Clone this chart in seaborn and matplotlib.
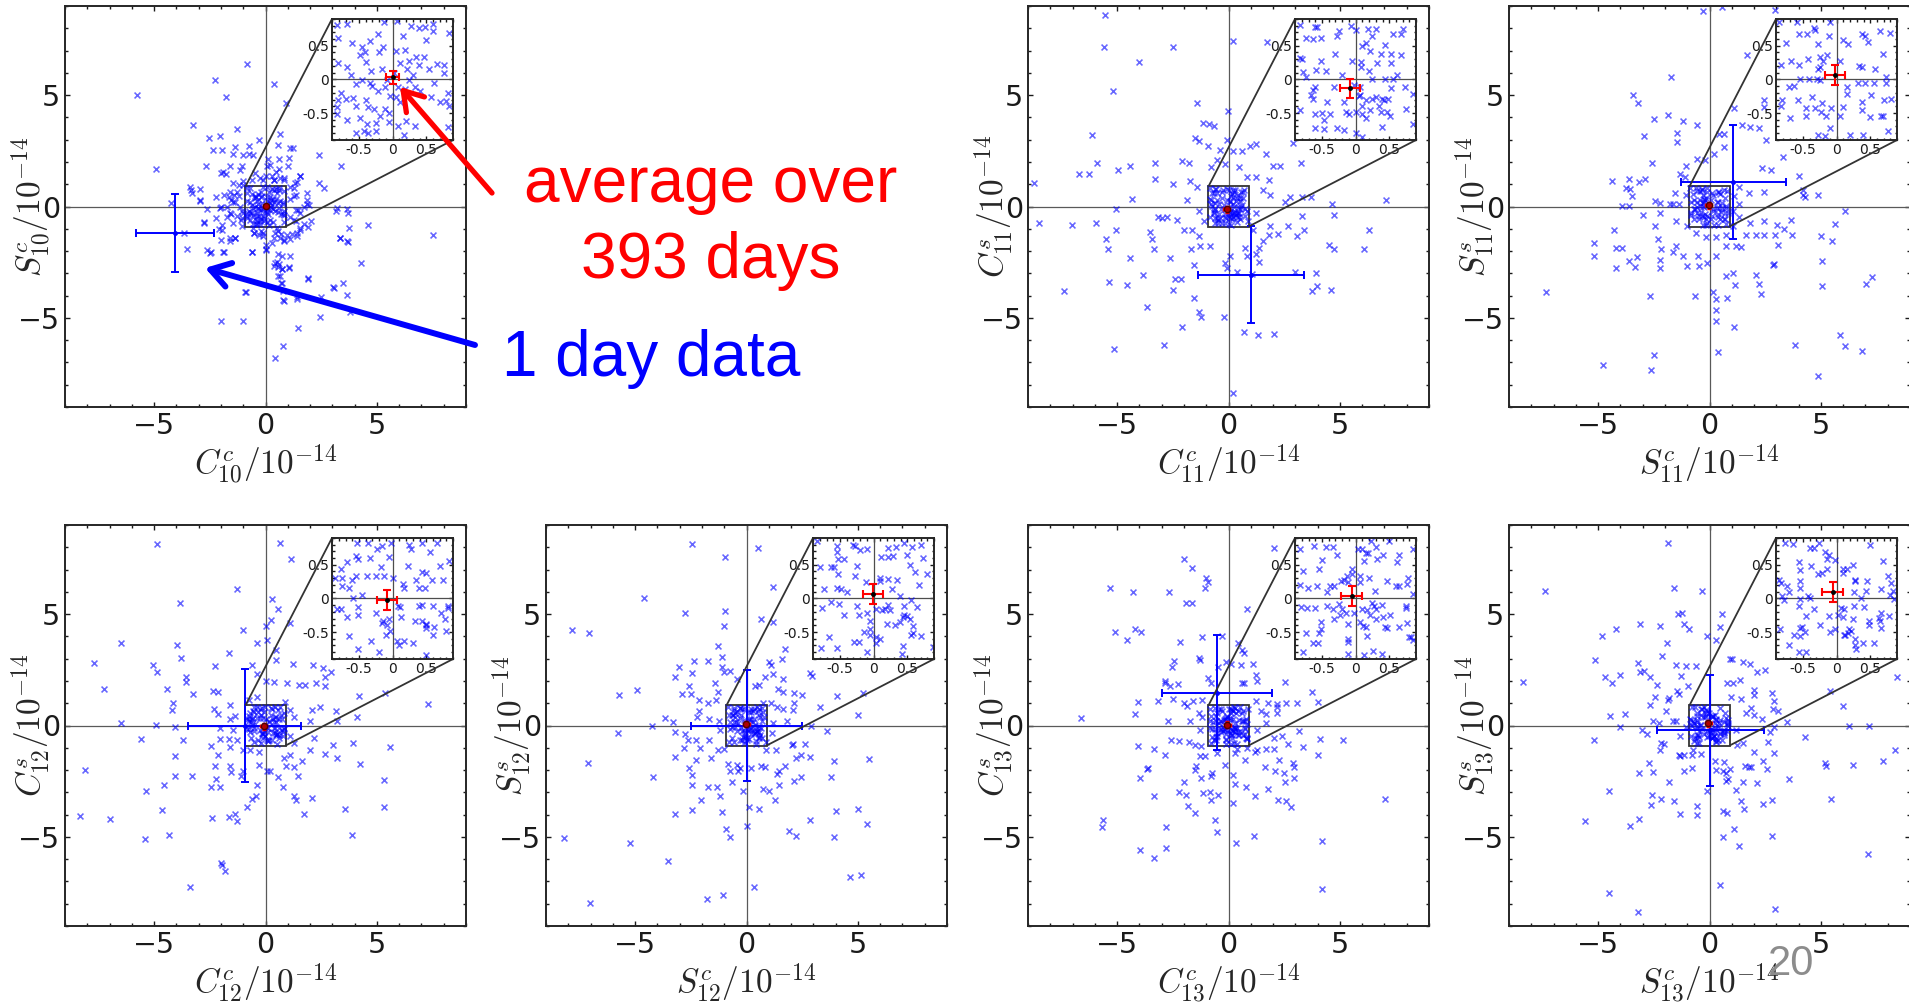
import numpy as np
import pandas as pd
import matplotlib
matplotlib.use("Agg")
import matplotlib.pyplot as plt
from matplotlib.patches import FancyArrowPatch
from matplotlib.ticker import MultipleLocator, FixedLocator, FixedFormatter
from mpl_toolkits.axes_grid1.inset_locator import mark_inset
import seaborn as sns

# ---------------------------------------------------------------------------
# daily coefficient estimates (units of 1e-14), one list of (x, y) per panel
# ---------------------------------------------------------------------------
c10c_s10c = [
    (-5.75, 5.0), (-0.81, 6.41), (-2.28, 5.67), (-1.78, 4.9), (0.40, 5.52), (0.93, 4.63), (-3.26, 3.66),
    (-1.26, 3.49), (-2.53, 3.07), (-2.04, 3.15), (-2.34, 2.55), (-1.96, 2.55), (-1.36, 2.67), (-0.72, 2.70),
    (-0.31, 2.97), (0.63, 3.26), (0.55, 2.74), (1.11, 2.63), (1.23, 2.63), (-1.02, 2.30), (-0.76, 2.34),
    (0.13, 2.11), (0.60, 2.11), (2.38, 2.33), (3.38, 1.82), (-4.91, 1.68), (-2.66, 1.82), (-1.99, 1.51),
    (-1.77, 1.45), (-1.59, 1.81), (-1.14, 1.63), (0.06, 1.81), (0.99, 1.81), (1.56, 1.36), (1.33, 1.07),
    (2.38, 1.07), (2.63, 0.85), (-3.41, 0.89), (-3.31, 0.59), (-2.96, 0.77), (-2.96, 0.25), (-4.25, 0.15),
    (-2.63, -0.12), (-2.04, -0.07), (-2.22, -0.52), (-2.78, -0.71), (-1.96, -1.04), (-1.59, -1.41),
    (-1.36, -1.41), (-1.99, -1.51), (-2.63, -1.97), (-2.46, -2.05), (-3.53, -1.93), (-3.68, -1.19),
    (-1.92, -2.05), (-0.61, -2.03), (0.03, -1.93), (0.43, -2.52), (0.58, -2.72), (0.75, -2.82), (1.05, -2.72),
    (0.55, -3.12), (0.75, -3.44), (0.78, -4.18), (-0.88, -3.83), (1.41, -4.08), (1.90, -3.23), (2.49, -4.04),
    (3.01, -3.61), (4.30, -2.55), (3.35, -1.41), (3.70, -1.60), (3.73, -0.96), (4.58, -0.83), (7.54, -1.28),
    (3.65, -0.12), (3.17, -0.18), (3.71, -0.30), (1.86, 0.30), (1.48, -0.15), (2.04, -0.67), (1.56, -0.96),
    (1.41, -1.19), (1.11, -1.45), (0.81, -1.51), (0.43, -1.19), (-0.31, -1.26), (-0.51, -1.19), (-0.09, -1.34),
    (-1.02, -0.30), (-1.59, -0.30), (-1.44, 0.22), (-1.21, 0.45), (-1.59, 0.67), (-0.99, 0.96), (-0.61, 1.19),
    (-0.24, 1.26), (0.36, 1.19), (0.81, 1.26), (1.11, 0.89), (1.26, 0.45), (1.86, 0.59), (1.26, -0.59),
    (-0.54, -0.96), (0.51, -0.95), (-1.06, -0.89), (-1.99, -5.12), (-0.99, -5.16), (1.48, -5.46), (2.43, -4.97),
    (0.78, -6.26), (0.43, -6.78), (3.80, -4.72),
    (-1.45, 2.36), (-0.55, 2.32), (1.05, 2.17), (-1.05, 1.82), (0.22, 1.87), (0.60, 1.67), (0.49, 1.57),
    (-1.91, 1.57), (-0.48, 1.49), (-0.10, 1.20), (0.00, 1.35), (0.30, 1.35), (0.40, 1.20), (0.67, 1.27),
    (0.82, 1.20), (1.57, 1.38), (1.42, 1.12), (-1.00, 1.15), (-1.45, 1.05), (-1.20, 0.97), (1.27, 0.82),
    (1.39, 0.52), (1.12, 0.33), (-3.36, 0.75), (-2.94, 0.30), (-2.24, 0.42), (-1.99, 0.00), (-1.75, 0.00),
    (-1.57, 0.30), (-1.42, 0.52), (-1.27, 0.63), (-1.87, 0.52), (-1.64, 0.42), (-1.35, 0.22), (-1.15, 0.00),
    (-1.05, -0.18), (-1.27, -0.42), (-1.05, -0.52), (-1.54, -0.33), (-1.75, -0.45), (-1.94, -0.82),
    (-2.09, -1.02), (-2.77, -0.75), (-1.45, -0.75), (-1.12, -0.60), (1.35, -0.15), (1.72, -0.03), (1.87, 0.12),
    (1.94, 0.07), (1.57, -0.30), (1.12, -0.45), (1.35, -0.67), (1.72, -0.78), (1.90, -0.90), (1.57, -1.05),
    (1.42, -1.32), (1.20, -1.23), (0.97, -1.27), (0.70, -1.23), (0.55, -1.12), (0.67, -1.42), (0.85, -1.57),
    (0.37, -1.42), (0.30, -1.64), (0.00, -1.72), (-0.22, -1.12), (-0.52, -1.17), (-0.10, -1.17), (-1.60, -1.57),
    (-1.35, -1.42), (-1.87, -2.02), (-2.47, -2.09), (-0.60, -2.06), (0.04, -1.97), (0.55, -2.12), (0.75, -2.21),
    (1.12, -2.21), (0.52, -2.47), (0.60, -2.57), (0.37, -2.69), (0.75, -2.81), (1.05, -2.77), (0.64, -3.14),
    (0.70, -3.44), (1.90, -3.26), (0.79, -3.81), (1.42, -4.15), (0.82, -4.26), (-0.90, -3.86), (3.06, -3.66),
    (3.66, -3.96), (3.48, -3.44), (3.36, -1.42), (3.66, -1.57), (3.21, -0.07),
    (-0.83, 0.81), (-0.68, 0.82), (-0.13, 0.86), (0.06, 0.87), (0.28, 0.80), (0.39, 0.76), (0.48, 0.78),
    (0.60, 0.82), (0.60, 0.72), (0.84, 0.69), (-0.81, 0.62), (-0.60, 0.54), (-0.34, 0.57), (-0.21, 0.67),
    (-0.46, 0.48), (-0.41, 0.41), (-0.15, 0.48), (-0.20, 0.41), (0.05, 0.42), (0.16, 0.64), (0.18, 0.43),
    (0.50, 0.59), (0.35, 0.33), (0.46, 0.34), (0.66, 0.23), (0.77, 0.22), (0.77, 0.09), (0.54, 0.16),
    (0.39, 0.21), (0.22, 0.16), (0.11, 0.25), (0.25, 0.28), (-0.81, 0.24), (-0.68, 0.19), (-0.48, 0.36),
    (-0.39, 0.26), (-0.32, 0.13), (-0.16, 0.16), (-0.46, -0.01), (-0.33, -0.06), (-0.31, -0.10), (-0.54, -0.07),
    (-0.21, -0.17), (-0.11, -0.12), (-0.09, -0.01), (0.25, -0.01), (0.34, -0.11), (0.08, -0.12), (0.18, -0.15),
    (0.41, -0.18), (0.82, -0.20), (-0.76, -0.20), (-0.81, -0.30), (-0.70, -0.29), (-0.59, -0.28), (-0.39, -0.30),
    (-0.04, -0.25), (0.05, -0.26), (0.11, -0.33), (0.57, -0.26), (0.71, -0.33), (0.79, -0.32), (0.84, -0.40),
    (-0.83, -0.41), (-0.54, -0.40), (-0.37, -0.41), (-0.27, -0.44), (-0.11, -0.44), (-0.06, -0.50),
    (-0.19, -0.54), (-0.68, -0.60), (-0.48, -0.57), (-0.38, -0.67), (-0.24, -0.65), (-0.06, -0.64), (0.20, -0.62),
    (0.34, -0.70), (-0.82, -0.52), (-0.54, -0.79), (-0.43, -0.77), (-0.36, -0.79), (-0.25, -0.77), (0.17, -0.83),
    (0.82, -0.71), (0.08, -0.70), (0.62, -0.05), (-0.62, 0.06), (0.02, 0.09), (0.30, 0.06),
]

c11c_c11s = [
    (-5.55, 8.58), (-5.58, 7.15), (-2.51, 7.15), (-4.03, 6.50), (0.22, 7.42), (1.75, 7.37), (-5.18, 5.18),
    (-1.42, 4.64), (-0.04, 4.30), (-1.15, 3.75), (-0.88, 3.71), (-0.67, 3.63), (-6.12, 3.22), (-1.49, 3.09),
    (-1.31, 2.94), (-0.07, 2.97), (-0.90, 2.70), (-0.37, 2.55), (0.19, 2.48), (0.60, 2.49), (0.97, 2.70),
    (1.24, 2.82), (1.69, 2.37), (2.88, 2.86), (3.25, 1.97), (-5.90, 1.97), (-6.69, 1.44), (-6.24, 1.45),
    (-8.73, 1.07), (-4.96, 1.63), (-4.40, 1.82), (-3.28, 1.97), (-3.28, 1.23), (-2.51, 1.02), (-2.09, 2.03),
    (-1.79, 1.97), (-1.72, 1.14), (-0.79, 1.78), (-0.52, 2.08), (-0.15, 1.93), (0.45, 1.78), (0.82, 1.34),
    (1.24, 1.34), (1.84, 1.19), (1.99, 1.82), (2.31, 1.82), (1.54, 0.74), (1.87, 0.52), (2.54, 0.18),
    (2.76, 0.42), (3.28, 0.42), (3.70, 0.42), (4.63, 0.10), (7.09, 0.27), (4.75, -0.37), (3.28, -0.42),
    (2.69, -0.89), (2.24, -1.23), (3.06, -1.31), (3.39, -1.07), (6.31, -1.04), (6.07, -1.90), (4.49, -1.71),
    (4.73, -1.93), (3.93, -2.97), (3.96, -3.59), (3.73, -3.80), (4.58, -3.74), (1.87, -0.89), (1.84, -1.26),
    (1.57, -1.56), (1.39, -1.85), (1.24, -2.15), (1.39, -2.48), (0.75, -1.85), (0.82, -2.23), (0.07, -2.23),
    (-0.15, -2.52), (-0.07, -2.74), (0.37, -2.94), (1.04, -3.04), (2.99, -2.94), (-0.82, -1.78), (-1.27, -1.78),
    (-1.57, -2.63), (-1.34, -1.34), (-1.69, -1.90), (-1.64, -1.04), (-1.99, -1.07), (-2.31, -0.62),
    (-2.76, -0.45), (-2.99, -0.52), (-3.18, -0.47), (-3.51, -1.16), (-3.43, -1.45), (-3.36, -1.93),
    (-2.61, -2.30), (-2.42, -3.26), (-2.12, -3.26), (-2.49, -3.75), (-1.57, -4.12), (-1.34, -4.75),
    (-1.22, -4.97), (-0.22, -4.97), (-2.07, -5.42), (-2.91, -6.23), (-5.15, -6.38), (-3.66, -4.50),
    (-3.85, -3.09), (-4.55, -3.53), (-4.43, -2.33), (-5.37, -3.41), (-5.40, -1.93), (-5.49, -1.45),
    (-5.04, -1.04), (-5.04, -0.12), (-4.33, 0.33), (-5.97, -0.74), (-7.04, -0.83), (-8.51, -0.74),
    (-7.39, -3.80), (0.70, -5.64), (1.34, -5.79), (2.04, -5.74), (0.22, -8.35), (-1.87, 0.30),
    (-1.42, 0.89), (-1.34, -0.22), (-1.12, -0.67), (1.24, -0.30), (1.12, -1.04),
    (-0.82, 0.81), (-0.60, 0.78), (-0.57, 0.78), (-0.74, 0.62), (-0.63, 0.60), (-0.51, 0.62), (-0.25, 0.72),
    (-0.27, 0.64), (-0.07, 0.80), (0.01, 0.73), (0.18, 0.75), (0.31, 0.75), (0.25, 0.65), (0.55, 0.67),
    (0.67, 0.67), (0.71, 0.75), (0.10, 0.49), (0.16, 0.54), (0.43, 0.51), (0.22, 0.42), (0.37, 0.37),
    (0.52, 0.37), (0.67, 0.36), (-0.82, 0.32), (-0.51, 0.27), (-0.30, 0.37), (-0.05, 0.28), (0.08, 0.26),
    (0.08, 0.19), (0.20, 0.13), (0.32, 0.25), (0.52, 0.24), (0.61, 0.06), (-0.59, 0.14), (-0.44, 0.12),
    (-0.78, 0.11), (-0.74, 0.03), (-0.20, 0.06), (-0.02, -0.08), (-0.32, -0.12), (-0.60, -0.12), (-0.64, -0.16),
    (0.07, -0.12), (0.25, 0.0), (0.44, 0.0), (0.56, 0.0), (0.52, -0.13), (0.74, -0.12), (0.85, -0.22),
    (-0.66, -0.23), (-0.63, -0.29), (-0.42, -0.33), (-0.17, -0.33), (0.05, -0.25), (0.07, -0.23), (0.15, -0.31),
    (0.25, -0.29), (0.31, -0.26), (0.39, -0.29), (0.48, -0.29), (0.42, -0.31), (0.35, -0.40), (0.22, -0.46),
    (0.10, -0.39), (0.0, -0.48), (-0.14, -0.48), (-0.10, -0.52), (-0.38, -0.52), (-0.50, -0.50), (-0.61, -0.51),
    (-0.82, -0.45), (-0.47, -0.61), (0.10, -0.52), (0.15, -0.58), (0.38, -0.48), (0.46, -0.48), (0.51, -0.55),
    (0.75, -0.44), (-0.61, -0.72), (-0.47, -0.74), (-0.27, -0.72), (-0.17, -0.75), (0.01, -0.79), (0.10, -0.85),
    (0.39, -0.71), (0.86, -0.67), (-0.79, 0.30),
]

s11c_s11s = [
    (-0.30, 8.78), (2.96, 8.83), (0.57, 8.95), (-1.75, 5.82), (1.67, 6.82), (-3.43, 5.00), (-3.19, 4.64),
    (-2.48, 3.93), (-1.87, 4.11), (-1.19, 3.86), (-0.55, 3.66), (-2.93, 3.17), (-1.46, 3.31), (-1.46, 2.91),
    (-2.57, 1.96), (1.10, 4.42), (0.42, 3.26), (0.67, 3.26), (1.46, 3.66), (1.82, 3.59), (2.21, 3.53),
    (2.54, 3.00), (2.46, 4.78), (2.46, 4.45), (3.31, 2.23), (2.76, 1.63), (4.00, 1.36), (4.18, 0.74),
    (4.30, 0.42), (4.88, 0.52), (4.18, 0.52), (2.36, 1.75), (2.46, 0.67), (1.79, 0.62), (1.34, 0.89),
    (1.12, 0.47), (0.67, 2.67), (0.18, 2.34), (-0.22, 2.08), (-0.57, 2.15), (-1.04, 1.81), (-1.34, 1.45),
    (-1.12, 1.34), (-1.57, 0.62), (-1.79, 0.12), (-1.64, 0.12), (-2.24, 0.15), (-2.24, -0.30), (-2.46, 0.25),
    (-3.61, 0.03), (-3.91, 0.03), (-3.76, 0.82), (-3.58, 0.79), (-3.46, 0.45), (-3.16, 1.11), (-2.88, 1.23),
    (-4.36, 1.14), (-3.61, 1.23), (-2.99, -0.37), (-2.43, -0.89), (-2.31, -1.45), (-2.19, -1.93),
    (-2.24, -2.40), (-2.21, -2.74), (-1.64, -2.05), (-1.49, -1.78), (-1.19, -2.20), (-1.01, -2.67),
    (-1.49, -0.64), (-1.01, -0.86), (-0.52, -2.23), (-0.45, -2.67), (-0.10, -2.52), (0.30, -2.23),
    (0.72, -1.78), (1.19, -1.78), (1.42, -1.82), (1.64, -1.26), (2.09, -1.26), (2.46, -1.26), (2.96, -1.26),
    (3.06, -1.71), (3.36, -1.01), (3.70, -1.26), (3.66, -0.62), (3.01, -0.82), (2.46, -0.67), (1.82, -0.74),
    (5.00, -1.34), (5.52, -1.56), (5.64, -0.77), (6.09, -0.22), (5.04, -2.45), (5.07, -3.56), (2.91, -2.57),
    (2.87, -2.63), (2.07, -3.09), (2.22, -3.46), (2.31, -3.93), (0.75, -3.12), (1.04, -3.00), (1.15, -3.53),
    (0.78, -4.11), (0.15, -3.83), (0.27, -4.15), (0.27, -4.64), (0.27, -5.12), (1.12, -5.42), (-0.67, -4.01),
    (-2.67, -4.01), (0.37, -6.53), (-2.49, -6.65), (-2.61, -7.34), (-4.78, -7.12), (-7.34, -3.86),
    (-5.19, -1.66), (-5.19, -2.23), (-4.18, -1.88), (-3.91, -1.88), (-4.18, -2.77), (-3.61, -2.45),
    (-3.36, -2.72), (-3.25, -2.27), (-4.28, -1.07), (3.85, -6.20), (4.88, -7.61), (5.85, -5.79), (6.09, -6.26),
    (6.84, -6.50), (7.04, -3.49), (7.31, -3.16), (-1.37, 0.12), (-1.04, 0.52), (1.04, -0.18), (1.04, -0.89),
    (0.75, -1.26), (0.30, -1.37), (-0.15, -1.37), (-0.60, -1.19), (1.34, 0.12), (1.34, -0.45),
    (-0.86, 0.85), (-0.59, 0.85), (-0.34, 0.77), (-0.32, 0.74), (-0.44, 0.68), (-0.56, 0.68), (-0.10, 0.85),
    (-0.11, 0.65), (-0.28, 0.53), (-0.75, 0.54), (0.10, 0.59), (0.17, 0.52), (0.37, 0.67), (0.42, 0.65),
    (0.46, 0.55), (0.64, 0.72), (0.79, 0.69), (0.69, 0.37), (-0.42, 0.31), (-0.68, 0.27), (-0.56, 0.21),
    (-0.82, 0.21), (-0.25, 0.34), (-0.15, 0.36), (-0.20, 0.27), (-0.25, 0.19), (-0.28, 0.16), (0.05, 0.27),
    (0.33, 0.20), (0.38, 0.19), (0.57, 0.16), (0.74, 0.03), (-0.54, 0.0), (-0.41, 0.01), (-0.29, 0.01),
    (-0.25, -0.01), (-0.71, -0.12), (-0.64, -0.10), (0.16, -0.12), (0.32, -0.06), (0.42, -0.06), (0.56, -0.06),
    (0.74, -0.06), (0.16, -0.21), (0.51, -0.23), (-0.81, -0.30), (-0.58, -0.31), (-0.36, -0.26), (-0.21, -0.35),
    (-0.32, -0.43), (-0.45, -0.43), (-0.45, -0.54), (-0.23, -0.48), (-0.16, -0.54), (-0.09, -0.43),
    (0.10, -0.41), (0.37, -0.46), (0.38, -0.33), (0.71, -0.30), (0.81, -0.29), (0.49, -0.56), (0.66, -0.54),
    (0.69, -0.55), (-0.69, -0.57), (-0.10, -0.72), (-0.28, -0.82), (-0.17, -0.84), (0.20, -0.82), (0.39, -0.82),
    (0.76, -0.77), (-0.83, -0.40), (0.05, -0.55),
]

c12c_c12s = [
    (-4.85, 8.13), (0.66, 8.19), (1.15, 7.46), (-1.26, 6.13), (-3.83, 5.51), (0.28, 5.66), (0.58, 5.22),
    (-1.02, 4.28), (0.0, 4.46), (0.25, 4.73), (1.08, 4.58), (-0.39, 3.69), (0.06, 3.84), (-6.50, 3.69),
    (-3.98, 3.61), (-3.79, 3.04), (-1.65, 3.24), (0.48, 3.39), (0.48, 2.94), (-7.72, 2.79), (-5.03, 2.72),
    (-4.85, 2.39), (-2.26, 2.67), (-0.61, 2.72), (-0.39, 2.30), (0.03, 2.00), (0.36, 1.97), (1.23, 2.76),
    (2.11, 2.72), (2.56, 2.57), (2.95, 2.39), (2.68, 2.19), (2.68, 1.79), (2.28, 1.90), (1.78, 1.82),
    (1.51, 1.82), (0.96, 1.90), (-3.56, 2.16), (-3.56, 1.94), (-3.26, 1.42), (-4.40, 1.63), (-7.23, 1.64),
    (-4.13, 1.03), (-4.18, 0.70), (-3.71, -0.67), (-6.50, 0.10), (-4.91, 0.03), (-4.06, -0.07), (-2.29, 0.73),
    (-2.11, 0.52), (-2.34, 1.57), (-2.14, 1.52), (-1.59, 0.93), (-1.59, 0.28), (-1.36, 0.43), (-2.04, -0.12),
    (-2.04, -0.61), (-2.46, -0.94), (-2.11, -1.31), (-1.62, -0.61), (-1.59, -0.97), (-1.29, -0.64),
    (-1.59, -1.81), (-1.54, -2.10), (-2.26, -1.84), (-2.22, -2.40), (-2.46, -2.78), (-2.04, -2.78),
    (-1.11, -2.28), (-1.02, -2.03), (-0.31, -1.76), (-0.69, -1.09), (-0.31, -1.21), (0.06, -2.06),
    (0.18, -2.06), (0.58, -2.31), (0.78, -2.76), (0.93, -1.81), (0.81, -1.46), (1.08, -1.31), (1.29, -1.87),
    (1.44, -2.28), (1.30, -3.15), (1.38, -3.33), (1.75, -3.96), (2.08, -3.25), (1.66, -1.61), (2.01, -1.09),
    (2.16, -0.54), (2.01, 0.22), (2.08, 0.70), (2.46, 0.85), (3.17, 0.63), (3.20, 0.18), (3.05, -0.87),
    (2.68, -1.27), (3.23, -1.46), (3.91, -0.79), (5.57, -0.97), (4.25, -1.72), (4.10, 0.37), (4.18, 1.33),
    (5.37, 1.48), (7.28, 0.96), (5.30, -2.43), (5.30, -3.66), (3.58, -3.75), (3.88, -4.93), (-0.39, -2.66),
    (-0.42, -3.15), (-0.61, -3.30), (-0.81, -3.67), (-1.36, -3.96), (-1.26, -4.30), (-1.63, -4.10),
    (-2.38, -4.15), (-3.31, -2.28), (-4.06, -2.28), (-4.06, -1.39), (-5.58, -0.61), (-5.36, -2.93),
    (-4.55, -2.66), (-4.66, -3.81), (-4.33, -4.93), (-5.43, -5.09), (-6.98, -4.19), (-8.32, -4.07),
    (-8.10, -1.99), (-2.01, -6.19), (-1.96, -6.28), (-1.81, -6.51), (-3.38, -7.24), (-0.99, -1.09),
    (-1.44, -0.19), (1.26, -0.79), (1.11, -0.49), (1.26, 0.40), (1.11, 0.70), (0.88, 1.07), (-0.76, 1.15),
    (-0.39, 1.30),
    (-0.53, 0.82), (-0.36, 0.83), (-0.23, 0.73), (-0.16, 0.78), (-0.03, 0.83), (0.25, 0.80), (0.28, 0.73),
    (0.44, 0.82), (0.66, 0.83), (-0.76, 0.44), (-0.68, 0.54), (-0.54, 0.63), (-0.52, 0.59), (-0.33, 0.60),
    (-0.18, 0.47), (-0.05, 0.62), (0.23, 0.48), (0.55, 0.69), (0.70, 0.48), (0.84, 0.55), (-0.85, 0.31),
    (-0.75, 0.31), (-0.75, 0.18), (-0.65, 0.16), (-0.60, 0.28), (-0.54, 0.34), (-0.38, 0.34), (-0.25, 0.34),
    (-0.13, 0.33), (0.0, 0.31), (0.16, 0.21), (0.17, 0.15), (0.35, 0.28), (0.39, 0.16), (0.48, 0.15),
    (0.44, 0.39), (0.49, 0.38), (0.59, 0.28), (0.75, 0.28), (-0.59, 0.01), (-0.46, 0.05), (-0.82, -0.16),
    (-0.76, -0.16), (-0.68, -0.28), (-0.52, -0.13), (-0.52, -0.25), (-0.25, -0.21), (-0.14, -0.33),
    (-0.06, -0.30), (-0.16, -0.36), (-0.09, -0.39), (-0.04, -0.48), (0.08, -0.12), (0.11, -0.13),
    (0.13, -0.28), (0.34, -0.33), (0.39, -0.11), (0.44, -0.10), (0.60, -0.11), (0.82, -0.11), (0.82, -0.15),
    (0.44, -0.33), (0.50, -0.38), (0.50, -0.40), (0.62, -0.43), (0.72, -0.22), (0.78, -0.30), (0.79, -0.48),
    (-0.65, -0.56), (-0.32, -0.64), (-0.52, -0.75), (-0.20, -0.80), (-0.10, -0.54), (0.07, -0.64),
    (0.10, -0.70), (0.17, -0.64), (0.31, -0.66), (0.49, -0.44), (0.60, -0.55), (0.50, -0.84),
]

s12c_s12s = [
    (-2.44, 8.16), (0.51, 7.99), (-0.96, 7.57), (1.18, 6.22), (-4.61, 5.73), (-2.78, 5.07), (-0.96, 5.13),
    (-0.99, 4.46), (0.66, 4.78), (1.21, 4.63), (-7.83, 4.28), (-7.08, 4.13), (-1.26, 3.57), (-1.09, 3.09),
    (1.75, 3.42), (1.60, 2.97), (1.00, 2.84), (-2.34, 2.91), (-1.71, 2.91), (-3.01, 2.64), (-2.44, 2.34),
    (-3.23, 2.19), (-2.56, 1.79), (-2.89, 1.40), (-2.48, 1.40), (-4.93, 1.60), (-5.73, 1.37), (-2.11, 1.15),
    (-1.74, 1.00), (-1.39, 1.15), (-1.29, 1.52), (-1.41, 1.90), (-1.11, 2.64), (-1.03, 2.39), (-0.72, 2.45),
    (-0.43, 2.07), (0.40, 1.79), (0.54, 1.82), (0.81, 2.16), (1.11, 2.72), (1.18, 2.31), (1.41, 1.64),
    (1.66, 2.09), (1.63, 1.52), (2.11, 1.45), (2.48, 1.37), (2.11, 1.03), (2.08, 0.70), (1.66, 0.73),
    (1.36, 0.82), (1.81, 0.18), (2.83, 2.37), (2.93, 2.22), (3.28, 0.81), (4.07, 1.34), (5.00, 0.48),
    (5.22, 1.48), (2.90, -0.04), (3.62, -0.24), (2.08, -0.84), (2.04, -0.88), (2.63, -0.84), (2.20, -1.46),
    (2.46, -1.31), (2.86, -1.42), (3.91, -1.61), (5.49, -1.51), (3.80, -2.31), (2.46, -2.31), (2.11, -2.48),
    (1.71, -1.81), (1.48, -2.03), (1.36, -2.18), (1.45, -2.66), (1.26, -3.33), (1.00, -2.93), (0.76, -2.85),
    (0.55, -3.73), (0.10, -3.67), (-0.16, -2.93), (0.21, -1.91), (0.66, -1.84), (0.81, -1.88), (-0.31, -1.91),
    (-0.43, -1.76), (-0.84, -1.72), (-0.64, -2.55), (-0.76, -2.03), (-0.36, -2.06), (-1.03, -1.04),
    (-1.59, -1.46), (-1.26, -1.12), (-1.69, -0.64), (-2.08, -0.99), (-2.26, -0.64), (-2.63, -0.64),
    (-2.74, -0.37), (-3.19, -0.31), (-2.81, -1.01), (-3.19, -1.42), (-2.26, -1.54), (-2.59, -1.91),
    (-2.44, -2.24), (-2.44, -2.66), (-1.74, -2.78), (-1.33, -2.78), (-1.17, -3.15), (-2.04, -3.36),
    (-2.44, -3.78), (-3.19, -3.96), (-1.09, -3.88), (-0.91, -4.63), (-0.73, -5.01), (0.01, -4.52),
    (1.89, -4.75), (2.20, -4.97), (2.83, -4.22), (4.03, -3.82), (5.00, -3.73), (5.40, -4.42), (3.95, -5.01),
    (4.63, -6.79), (5.15, -6.73), (0.33, -7.24), (-1.06, -7.63), (-1.77, -7.81), (-3.53, -6.09),
    (-5.22, -5.27), (-8.20, -5.04), (-7.02, -7.99), (-7.13, -1.69), (-4.21, -2.33), (-5.78, -0.34),
    (-4.25, 0.0), (-3.68, 0.33), (-3.31, 0.15), (-2.22, 0.37), (-2.14, 0.63), (-1.69, 0.28), (-1.24, 0.18),
    (-1.18, -0.19), (1.18, 0.10), (1.15, -0.34), (0.88, -0.72), (0.88, -1.09), (1.33, -1.09), (0.73, 1.00),
    (1.11, 1.00),
    (-0.84, 0.85), (-0.55, 0.78), (-0.55, 0.69), (-0.30, 0.80), (-0.27, 0.78), (-0.20, 0.72), (-0.10, 0.74),
    (0.21, 0.75), (0.33, 0.76), (0.45, 0.83), (0.57, 0.76), (0.70, 0.80), (0.11, 0.62), (0.21, 0.62),
    (0.29, 0.63), (0.50, 0.64), (0.74, 0.60), (-0.44, 0.59), (-0.53, 0.58), (-0.25, 0.48), (-0.79, 0.46),
    (-0.64, 0.46), (-0.59, 0.46), (-0.53, 0.36), (-0.28, 0.34), (0.54, 0.49), (0.61, 0.39), (0.79, 0.36),
    (0.68, 0.20), (0.09, 0.31), (0.10, 0.26), (0.21, 0.29), (0.35, 0.28), (0.28, 0.14), (-0.11, 0.24),
    (-0.74, 0.14), (-0.54, 0.16), (-0.49, 0.14), (-0.39, 0.10), (-0.63, -0.05), (-0.51, -0.08), (-0.76, -0.15),
    (-0.25, -0.11), (-0.10, -0.21), (-0.21, -0.25), (-0.44, -0.25), (0.04, -0.16), (0.12, -0.18), (0.17, -0.16),
    (0.21, -0.10), (0.25, -0.18), (0.39, 0.03), (0.45, -0.12), (0.56, -0.03), (0.65, -0.13), (0.43, -0.28),
    (0.45, -0.25), (0.49, -0.26), (0.54, -0.30), (0.39, -0.35), (0.32, -0.39), (0.20, -0.38), (0.59, -0.41),
    (0.58, -0.51), (0.56, -0.55), (0.70, -0.56), (-0.05, -0.34), (-0.15, -0.50), (-0.05, -0.45), (-0.06, -0.54),
    (0.04, -0.57), (0.09, -0.61), (0.04, -0.67), (-0.10, -0.79), (-0.29, -0.65), (-0.22, -0.65), (-0.55, -0.74),
    (-0.66, -0.57), (-0.78, -0.74), (0.43, -0.71), (0.42, -0.82),
]

c13c_c13s = [
    (2.04, 7.99), (-2.01, 7.46), (-1.63, 7.07), (-1.00, 6.63), (-0.93, 6.45), (-1.04, 6.18), (-5.30, 6.18),
    (-4.30, 6.00), (-2.69, 6.00), (-1.90, 5.48), (-1.63, 5.51), (0.85, 5.21), (-5.10, 4.18), (-4.21, 4.33),
    (-3.93, 4.18), (-4.55, 3.84), (-1.19, 3.96), (-0.30, 4.01), (-2.16, 3.73), (0.42, 3.69), (0.60, 3.39),
    (0.70, 3.24), (-1.31, 3.01), (-1.30, 2.94), (-2.43, 2.90), (-2.54, 2.64), (-0.45, 2.64), (-0.10, 2.87),
    (0.10, 2.76), (0.55, 2.72), (1.12, 2.75), (1.22, 2.27), (1.30, 2.01), (0.60, 1.93), (0.70, 1.90),
    (-2.84, 2.00), (-2.84, 1.90), (-2.64, 1.78), (-2.28, 1.85), (-0.93, 2.12), (-0.78, 1.90), (2.54, 1.94),
    (3.73, 1.52), (4.03, 1.07), (-3.18, 1.12), (-4.07, 1.07), (-4.18, 0.51), (-2.49, 1.18), (-1.99, 1.03),
    (-1.87, 0.88), (-1.72, 0.22), (-1.61, 1.10), (-1.19, 1.15), (-1.34, 0.55), (-2.73, 0.22), (-6.64, 0.33),
    (1.24, 1.12), (1.45, 0.63), (1.69, 0.52), (1.79, 1.00), (2.19, 0.96), (2.16, 0.58), (2.58, 1.03),
    (3.06, 1.00), (2.19, 0.81), (1.69, 0.10), (1.27, -0.19), (2.39, -0.46), (3.18, -0.24), (2.04, -0.57),
    (2.69, -0.84), (3.33, -0.97), (4.10, -0.61), (5.12, -0.64), (4.03, -1.31), (2.28, -1.54), (2.91, -1.69),
    (2.94, -1.87), (2.94, -2.36), (2.49, -2.13), (2.09, -2.06), (1.64, -1.88), (2.06, -1.06), (1.67, -1.06),
    (1.30, -1.12), (0.75, -1.57), (0.78, -2.76), (0.30, -2.61), (0.22, -2.21), (1.19, -3.18), (1.79, -2.85),
    (2.24, -3.33), (2.58, -3.40), (2.81, -3.67), (2.54, -2.55), (7.01, -3.30), (0.18, -3.48), (0.33, -5.27),
    (1.16, -4.97), (4.18, -5.19), (4.18, -7.36), (-0.52, -4.79), (-0.60, -4.25), (-0.82, -3.00),
    (-0.45, -3.10), (-1.15, -3.03), (-0.79, -3.36), (-0.75, -2.13), (-0.15, -1.76), (-0.79, -2.28),
    (-1.22, -2.36), (-1.46, -1.84), (-1.49, -1.99), (-2.01, -2.55), (-2.24, -3.00), (-1.91, -3.13),
    (-1.84, -3.63), (-1.49, -3.93), (-2.79, -4.57), (-2.79, -5.49), (-3.96, -5.57), (-3.33, -5.97),
    (-5.63, -4.25), (-5.66, -4.57), (-3.99, -2.36), (-3.66, -1.96), (-3.61, -1.91), (-3.36, -3.15),
    (-2.87, -1.31), (-3.33, -1.04), (-4.07, -0.91), (-2.57, -0.64), (-2.24, -0.69), (-1.76, -0.72),
    (-1.49, -0.87), (-1.24, -0.94), (-1.27, -1.39), (-1.04, -1.39), (-0.52, -1.24), (0.30, -1.24),
    (0.37, -1.06), (0.82, -1.01), (1.19, -1.19), (0.82, -0.57), (-1.27, -0.19), (-1.21, 0.37),
    (-0.83, 0.74), (-0.62, 0.78), (-0.44, 0.76), (-0.34, 0.76), (0.03, 0.74), (0.10, 0.74), (0.23, 0.85),
    (0.31, 0.77), (0.50, 0.85), (0.15, 0.68), (0.18, 0.67), (-0.28, 0.64), (0.12, 0.55), (0.32, 0.58),
    (0.41, 0.64), (0.64, 0.65), (0.61, 0.54), (0.86, 0.74), (-0.50, 0.57), (-0.55, 0.43), (-0.78, 0.41),
    (-0.05, 0.43), (-0.05, 0.36), (-0.13, 0.33), (-0.21, 0.26), (-0.17, 0.27), (-0.11, 0.25), (0.06, 0.33),
    (0.07, 0.25), (0.20, 0.31), (0.29, 0.11), (0.47, 0.26), (0.60, 0.19), (0.64, 0.18), (0.76, 0.21),
    (0.78, 0.31), (0.85, 0.06), (-0.82, 0.20), (-0.71, 0.16), (-0.57, 0.19), (-0.38, 0.18), (-0.32, 0.19),
    (-0.42, 0.09), (-0.81, -0.13), (-0.72, -0.15), (-0.60, -0.15), (-0.42, -0.12), (-0.33, -0.16),
    (-0.25, -0.08), (-0.20, -0.16), (-0.15, -0.21), (-0.23, -0.25), (-0.32, -0.30), (-0.02, -0.21),
    (0.10, -0.16), (0.17, -0.18), (0.25, -0.07), (0.28, -0.11), (0.31, -0.16), (0.39, -0.10), (0.22, -0.25),
    (0.31, -0.31), (0.41, -0.28), (0.51, -0.25), (0.75, -0.11), (0.75, -0.15), (0.07, -0.35), (0.15, -0.43),
    (0.11, -0.41), (0.17, -0.56), (-0.11, -0.38), (-0.51, -0.35), (-0.52, -0.45), (-0.74, -0.51),
    (-0.55, -0.52), (0.43, -0.43), (0.46, -0.44), (0.64, -0.43), (0.76, -0.36), (0.80, -0.57), (0.85, -0.62),
    (-0.64, -0.67), (-0.56, -0.67), (-0.12, -0.60), (-0.12, -0.65), (0.26, -0.78), (0.39, -0.82),
    (-0.11, -0.82), (0.12, -0.84), (-0.78, -0.80),
]

s13c_s13s = [
    (-1.87, 8.21), (-7.39, 6.04), (-1.60, 6.18), (-0.34, 6.03), (-8.36, 1.94), (-1.42, 4.99), (-1.24, 5.07),
    (0.57, 4.99), (-3.10, 4.54), (-2.24, 4.48), (-1.15, 4.54), (-0.93, 4.33), (-4.18, 4.31), (-4.81, 4.01),
    (-0.10, 4.01), (0.30, 3.84), (0.49, 4.40), (-1.90, 3.69), (-2.13, 3.12), (-5.12, 2.94), (-3.21, 2.79),
    (-3.13, 2.42), (-2.96, 2.45), (-2.66, 2.19), (-4.03, 2.27), (-4.67, 2.19), (-4.37, 1.93), (-2.36, 1.82),
    (-1.52, 2.72), (-1.07, 2.67), (-0.60, 2.67), (-1.27, 2.24), (-0.97, 1.79), (-1.46, 1.55), (-1.82, 1.25),
    (-1.87, 1.15), (-1.37, 1.40), (-2.46, 1.30), (-2.69, 0.90), (-1.94, 0.63), (-1.49, 0.22), (-1.64, 0.18),
    (-2.54, 0.22), (-2.27, 0.10), (-4.48, 0.43), (-3.78, 0.51), (-4.03, -0.07), (-5.19, -0.64), (-3.01, -0.19),
    (-2.81, -0.37), (-2.16, -0.79), (-2.21, -1.09), (-2.04, -0.84), (-1.37, -1.34), (-1.31, -1.36),
    (-1.15, -1.34), (-0.78, -1.31), (-0.40, -1.28), (-0.78, -1.91), (-1.15, -2.03), (-2.72, -1.69),
    (-2.54, -2.09), (-3.16, -2.13), (-1.82, -2.55), (-2.57, -3.13), (-2.61, -3.55), (-2.19, -3.28),
    (-1.60, -3.37), (-1.31, -3.96), (-0.55, -3.60), (-0.55, -4.03), (-3.16, -4.18), (-3.55, -4.52),
    (-4.51, -2.93), (-5.57, -4.30), (-4.51, -7.51), (-3.21, -8.36), (-0.10, -2.93), (0.30, -1.99),
    (0.25, -1.61), (0.64, -1.66), (0.72, -2.13), (0.82, -2.40), (0.60, -2.03), (0.94, -1.96), (0.75, -2.51),
    (1.19, -2.88), (1.42, -3.40), (1.54, -3.75), (1.49, -2.55), (1.61, -1.84), (1.79, -1.87), (1.87, -1.87),
    (2.13, -2.58), (2.39, -3.51), (2.79, -3.33), (0.60, -3.85), (0.78, -3.93), (1.12, -4.64), (1.31, -5.39),
    (0.60, -5.01), (2.79, -4.94), (0.45, -7.18), (2.96, -8.25), (3.58, -2.40), (2.57, -1.96), (2.39, -1.61),
    (2.61, -0.72), (2.73, -0.31), (2.91, -0.07), (3.48, 0.15), (2.36, 0.28), (3.06, 0.66), (2.84, 0.73),
    (2.79, 1.45), (2.88, 1.12), (2.01, 0.48), (1.64, 0.55), (1.87, 0.78), (2.01, 1.60), (2.01, 1.37),
    (2.12, 2.42), (2.49, 2.49), (1.37, 2.04), (1.49, 2.87), (1.82, 2.76), (0.90, 2.97), (1.00, 2.97),
    (0.78, 1.90), (1.04, 1.93), (1.42, 1.18), (0.97, 1.30), (4.30, -0.52), (5.19, -1.69), (5.22, -1.81),
    (6.42, -1.76), (7.81, -1.58), (8.31, -1.09), (7.16, -0.01), (6.27, -0.04), (6.00, 0.88), (5.42, 1.57),
    (8.43, 2.19), (5.45, -3.30), (7.13, -5.76), (2.88, -1.24), (1.99, -1.21), (1.24, -0.87), (1.49, -0.79),
    (1.19, -0.19), (-1.07, -0.07), (-1.34, -0.49), (-0.75, -1.09), (-0.45, -0.79),
    (-0.77, 0.82), (-0.65, 0.81), (-0.40, 0.75), (-0.34, 0.75), (-0.26, 0.83), (-0.17, 0.69), (-0.12, 0.65),
    (-0.02, 0.57), (-0.15, 0.58), (0.49, 0.80), (0.69, 0.55), (-0.56, 0.54), (-0.55, 0.42), (-0.38, 0.48),
    (-0.27, 0.36), (-0.22, 0.37), (-0.15, 0.44), (0.10, 0.43), (0.15, 0.43), (0.25, 0.49), (0.10, 0.37),
    (0.27, 0.26), (0.27, 0.27), (0.45, 0.26), (0.76, 0.33), (0.81, 0.23), (-0.86, 0.28), (-0.74, 0.18),
    (-0.55, 0.26), (-0.55, 0.16), (-0.83, 0.23), (-0.71, 0.10), (0.66, 0.14), (0.84, 0.11), (0.26, 0.10),
    (0.43, 0.11), (-0.81, 0.03), (-0.54, -0.01), (-0.43, 0.03), (-0.40, 0.01), (-0.56, -0.11), (-0.78, -0.03),
    (0.36, 0.0), (0.85, -0.01), (0.07, -0.15), (0.11, -0.16), (0.26, -0.11), (0.40, -0.13), (0.66, -0.21),
    (0.78, -0.26), (-0.34, -0.16), (-0.45, -0.26), (-0.12, -0.26), (0.02, -0.25), (0.10, -0.28), (0.25, -0.31),
    (0.48, -0.33), (0.63, -0.29), (0.65, -0.33), (0.48, -0.40), (0.66, -0.44), (-0.25, -0.40), (-0.02, -0.45),
    (-0.10, -0.50), (-0.84, -0.46), (-0.51, -0.43), (-0.54, -0.44), (-0.47, -0.50), (-0.64, -0.54),
    (-0.54, -0.56), (0.19, -0.45), (0.17, -0.51), (0.22, -0.48), (0.11, -0.54), (0.12, -0.55), (0.27, -0.60),
    (-0.71, -0.69), (0.27, -0.70), (0.39, -0.66), (0.55, -0.66), (-0.56, -0.79), (0.29, -0.75), (0.79, 0.05),
]

# one representative single day with its uncertainty: (x, y, xerr, yerr)
one_day = [
    (-4.06, -1.19, 1.77, 1.74),
    (1.00, -3.06, 2.37, 2.17),
    (1.07, 1.10, 2.37, 2.54),
    (-0.94, 0.00, 2.55, 2.54),
    (0.00, 0.00, 2.47, 2.47),
    (-0.52, 1.48, 2.48, 2.56),
    (0.03, -0.22, 2.40, 2.50),
]

# average over all days with its uncertainty: (x, y, xerr, yerr)
average = [
    (0.00, 0.03, 0.10, 0.10),
    (-0.08, -0.13, 0.15, 0.14),
    (-0.03, 0.06, 0.15, 0.15),
    (-0.08, -0.03, 0.15, 0.15),
    (-0.01, 0.07, 0.15, 0.15),
    (-0.06, 0.04, 0.15, 0.15),
    (-0.06, 0.10, 0.15, 0.15),
]

x_labels = [r"$C^c_{10}/10^{-14}$", r"$C^c_{11}/10^{-14}$", r"$S^c_{11}/10^{-14}$",
            r"$C^c_{12}/10^{-14}$", r"$S^c_{12}/10^{-14}$", r"$C^c_{13}/10^{-14}$", r"$S^c_{13}/10^{-14}$"]
y_labels = [r"$S^c_{10}/10^{-14}$", r"$C^s_{11}/10^{-14}$", r"$S^s_{11}/10^{-14}$",
            r"$C^s_{12}/10^{-14}$", r"$S^s_{12}/10^{-14}$", r"$C^s_{13}/10^{-14}$", r"$S^s_{13}/10^{-14}$"]

panel_points = [c10c_s10c, c11c_c11s, s11c_s11s, c12c_c12s, s12c_s12s, c13c_c13s, s13c_s13s]
# (row, column) slot of each panel in the page grid
panel_slots = [(0, 0), (0, 2), (0, 3), (1, 0), (1, 1), (1, 2), (1, 3)]

main_ticks = [-5, 0, 5]
inset_ticks = [-0.5, 0, 0.5]
inset_tick_labels = ["-0.5", "0", "0.5"]
main_lim = 9.0
zoom_lim = 0.9

# ---------------------------------------------------------------------------
sns.set_theme(style="ticks")
plt.rcParams["font.family"] = ["DejaVu Sans"]
plt.rcParams["mathtext.fontset"] = "cm"
plt.rcParams["axes.unicode_minus"] = True

W, H = 1909, 1007
fig = plt.figure(figsize=(W / 100, H / 100), dpi=100)
fig.patch.set_facecolor("white")

col_left_px = [65, 546, 1028, 1509]
row_top_px = [6, 525]
side_px = 401

spine_col = "0.15"
marker_kw = dict(marker="x", color="blue", s=18, linewidth=1.15, alpha=0.6, legend=False)


def style_axes(a, major, minor_step, labelsize):
    a.xaxis.set_major_locator(FixedLocator(major))
    a.yaxis.set_major_locator(FixedLocator(major))
    a.xaxis.set_minor_locator(MultipleLocator(minor_step))
    a.yaxis.set_minor_locator(MultipleLocator(minor_step))
    a.tick_params(which="both", direction="in", top=True, right=True, bottom=True, left=True,
                  colors="0.1", width=1.0)
    a.tick_params(which="major", length=3.5, labelsize=labelsize)
    a.tick_params(which="minor", length=2.5)
    for sp in a.spines.values():
        sp.set_color(spine_col)
        sp.set_linewidth(1.4)


for k, pts in enumerate(panel_points):
    r, c = panel_slots[k]
    left = col_left_px[c] / W
    bottom = 1 - (row_top_px[r] + side_px) / H
    ax = fig.add_axes([left, bottom, side_px / W, side_px / H])
    df = pd.DataFrame(pts, columns=["x", "y"])

    ax.axhline(0, color="0.35", lw=0.9, zorder=1)
    ax.axvline(0, color="0.35", lw=0.9, zorder=1)
    sns.scatterplot(data=df, x="x", y="y", ax=ax, zorder=2, **marker_kw)

    dx, dy, dxe, dye = one_day[k]
    ax.errorbar(dx, dy, xerr=dxe, yerr=dye, fmt="o", ms=2.5, color="blue", ecolor="blue",
                elinewidth=1.4, capsize=2.8, capthick=1.4, zorder=4)
    mx, my, mxe, mye = average[k]
    ax.errorbar(mx, my, xerr=mxe, yerr=mye, fmt="o", ms=4.5, color="red", mfc="#b00000",
                mec="#500000", ecolor="red", elinewidth=1.2, capsize=1.5, zorder=5)

    ax.set_xlim(-main_lim, main_lim)
    ax.set_ylim(-main_lim, main_lim)
    style_axes(ax, main_ticks, 1, 20.5)
    ax.set_xlabel(x_labels[k], fontsize=24, labelpad=2)
    ax.set_ylabel(y_labels[k], fontsize=24)
    ax.yaxis.set_label_coords(-0.03, 0.5)

    # zoomed view of the central region
    axins = ax.inset_axes([0.666, 0.666, 0.302, 0.302])
    axins.set_facecolor("white")
    axins.axhline(0, color="0.3", lw=0.9, zorder=1)
    axins.axvline(0, color="0.3", lw=0.9, zorder=1)
    sns.scatterplot(data=df, x="x", y="y", ax=axins, zorder=2, **marker_kw)
    axins.errorbar(mx, my, xerr=mxe, yerr=mye, fmt="o", ms=2.5, color="red", mfc="black",
                   mec="black", ecolor="red", elinewidth=1.5, capsize=2.6, capthick=1.5, zorder=5)
    axins.set_xlim(-zoom_lim, zoom_lim)
    axins.set_ylim(-zoom_lim, zoom_lim)
    style_axes(axins, inset_ticks, 0.1, 10)
    axins.xaxis.set_major_formatter(FixedFormatter(inset_tick_labels))
    axins.yaxis.set_major_formatter(FixedFormatter(inset_tick_labels))
    axins.tick_params(which="major", length=3, pad=2)
    axins.tick_params(which="minor", length=1.8)
    axins.set_xlabel("")
    axins.set_ylabel("")
    mark_inset(ax, axins, loc1=2, loc2=4, fc="none", ec="0.2", lw=1.3)

# ---------------------------------------------------------------------------
# annotations on the page
txt_font = ["Liberation Sans", "DejaVu Sans"]
fig.text(711 / W, 1 - 202 / H, "average over", color="red", fontsize=46, family=txt_font,
         ha="center", va="baseline")
fig.text(711 / W, 1 - 278 / H, "393 days", color="red", fontsize=46, family=txt_font,
         ha="center", va="baseline")
fig.text(651 / W, 1 - 376 / H, "1 day data", color="blue", fontsize=46, family=txt_font,
         ha="center", va="baseline")


def fig_pt(px, py):
    return (px / W, 1 - py / H)


red_arrow = FancyArrowPatch(fig_pt(492, 193), fig_pt(400, 87), transform=fig.transFigure,
                            arrowstyle="->,head_length=0.67,head_width=0.43", mutation_scale=20,
                            color="red", lw=3.8, shrinkA=0, shrinkB=0, zorder=10)
blue_arrow = FancyArrowPatch(fig_pt(475, 345), fig_pt(205, 268), transform=fig.transFigure,
                             arrowstyle="->,head_length=0.69,head_width=0.44", mutation_scale=20,
                             color="blue", lw=4.3, shrinkA=0, shrinkB=0, zorder=10)
fig.add_artist(red_arrow)
fig.add_artist(blue_arrow)

fig.text(1768 / W, 1 - 975 / H, "20", color="#8c8c8c", fontsize=30, family=txt_font,
         ha="left", va="baseline")

fig.savefig("out.png", dpi=100, facecolor="white")
